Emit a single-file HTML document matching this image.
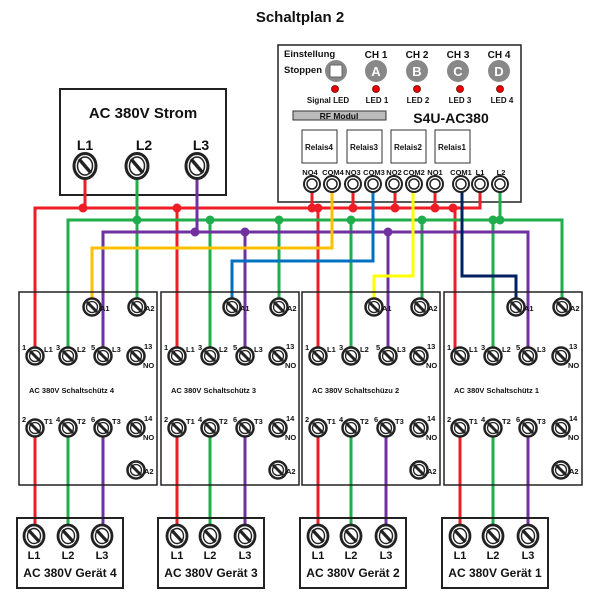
<!DOCTYPE html>
<html><head><meta charset="utf-8"><style>
html,body{margin:0;padding:0;background:#fff}
svg{display:block}
text{font-family:"Liberation Sans",Arial,sans-serif;font-weight:bold;fill:#111}
</style></head><body>
<svg width="600" height="600" viewBox="0 0 600 600" xmlns="http://www.w3.org/2000/svg">
<defs>
<g id="t"><circle r="8.5" fill="#fff" stroke="#222" stroke-width="2.5"/><circle r="5.5" fill="none" stroke="#222" stroke-width="1.3"/><line x1="-5" y1="-5" x2="5" y2="5" stroke="#222" stroke-width="3"/></g>
<g id="T"><ellipse rx="11" ry="12.5" fill="#fff" stroke="#222" stroke-width="3"/><ellipse rx="7.5" ry="9" fill="none" stroke="#222" stroke-width="1.5"/><line x1="-6" y1="-7" x2="6" y2="7" stroke="#222" stroke-width="3.5"/></g>
<g id="D"><ellipse rx="10" ry="11" fill="#fff" stroke="#222" stroke-width="2.8"/><ellipse rx="6.5" ry="7.5" fill="none" stroke="#222" stroke-width="1.4"/><line x1="-5.5" y1="-6" x2="5.5" y2="6" stroke="#222" stroke-width="3.2"/></g>
<g id="m"><circle r="8" fill="#fff" stroke="#222" stroke-width="2"/><circle r="5" fill="none" stroke="#222" stroke-width="1.5"/></g>
</defs>

<text x="300" y="22" font-size="15" text-anchor="middle">Schaltplan 2</text>

<rect x="60" y="89" width="166" height="106" fill="#fff" stroke="#222" stroke-width="2"/>
<text x="143" y="118" font-size="15" text-anchor="middle">AC 380V Strom</text>
<text x="85" y="150" font-size="14" text-anchor="middle">L1</text>
<text x="144" y="150" font-size="14" text-anchor="middle">L2</text>
<text x="201" y="150" font-size="14" text-anchor="middle">L3</text>

<rect x="278" y="45" width="243" height="157" fill="#fff" stroke="#222" stroke-width="1.5"/>
<text x="284" y="57" font-size="9.5">Einstellung</text>
<text x="284" y="73" font-size="9.5">Stoppen</text>
<g font-size="10" text-anchor="middle">
<text x="376" y="58">CH 1</text><text x="417" y="58">CH 2</text><text x="458" y="58">CH 3</text><text x="499" y="58">CH 4</text>
</g>
<circle cx="336" cy="71" r="11" fill="#888"/><rect x="330" y="65" width="12" height="12" fill="#fff" stroke="#666"/>
<circle cx="376" cy="71" r="11" fill="#888"/><text x="376" y="76" font-size="13" text-anchor="middle" style="fill:#fff">A</text>
<circle cx="417" cy="71" r="11" fill="#888"/><text x="417" y="76" font-size="13" text-anchor="middle" style="fill:#fff">B</text>
<circle cx="458" cy="71" r="11" fill="#888"/><text x="458" y="76" font-size="13" text-anchor="middle" style="fill:#fff">C</text>
<circle cx="499" cy="71" r="11" fill="#888"/><text x="499" y="76" font-size="13" text-anchor="middle" style="fill:#fff">D</text>
<g fill="#e00" stroke="#600" stroke-width="0.8">
<circle cx="335" cy="89" r="3.5"/><circle cx="376" cy="89" r="3.5"/><circle cx="417" cy="89" r="3.5"/><circle cx="460" cy="89" r="3.5"/><circle cx="500" cy="89" r="3.5"/>
</g>
<g font-size="8" text-anchor="middle">
<text x="328" y="103">Signal LED</text><text x="377" y="103">LED 1</text><text x="418" y="103">LED 2</text><text x="460" y="103">LED 3</text><text x="502" y="103">LED 4</text>
</g>
<rect x="293" y="111" width="93" height="9" fill="#bbb" stroke="#333" stroke-width="1"/>
<text x="339" y="119" font-size="8.5" text-anchor="middle">RF Modul</text>
<text x="451" y="123" font-size="14" text-anchor="middle">S4U-AC380</text>
<g fill="#fff" stroke="#333" stroke-width="1">
<rect x="302" y="130" width="35" height="33"/><rect x="347" y="130" width="35" height="33"/><rect x="391" y="130" width="35" height="33"/><rect x="435" y="130" width="35" height="33"/>
</g>
<g font-size="8" text-anchor="middle">
<text x="319" y="150">Relais4</text><text x="364" y="150">Relais3</text><text x="408" y="150">Relais2</text><text x="452" y="150">Relais1</text>
</g>
<g font-size="7.5" text-anchor="middle">
<text x="310" y="175">NO4</text><text x="333" y="175">COM4</text><text x="353" y="175">NO3</text><text x="374" y="175">COM3</text><text x="394" y="175">NO2</text><text x="414" y="175">COM2</text><text x="435" y="175">NO1</text><text x="461" y="175">COM1</text><text x="480" y="175">L1</text><text x="501" y="175">L2</text>
</g>

<g fill="none" stroke-width="3" stroke-linejoin="miter">
<g stroke="#ee1c25">
<path d="M35,356 V208 H480 V184"/><path d="M85,178 V208"/>
<path d="M177,208 V356"/><path d="M318,208 V356"/><path d="M455,208 V356"/>
<path d="M312,184 V208"/><path d="M353,184 V208"/><path d="M395,184 V208"/><path d="M435,184 V208"/>
<path d="M35,428 V537"/><path d="M177,428 V537"/><path d="M318,428 V537"/><path d="M460,428 V537"/>
</g>
<g stroke="#1fae4b">
<path d="M68,356 V220 H562 V307"/><path d="M137,178 V307"/>
<path d="M210,220 V356"/><path d="M279,220 V307"/><path d="M351,220 V356"/><path d="M422,220 V307"/><path d="M493,220 V356"/><path d="M500,184 V220"/>
<path d="M68,428 V537"/><path d="M210,428 V537"/><path d="M351,428 V537"/><path d="M493,428 V537"/>
</g>
<g stroke="#7030a0">
<path d="M103,356 V232 H528 V356"/><path d="M197,178 V232"/>
<path d="M245,232 V356"/><path d="M388,232 V356"/>
<path d="M103,428 V537"/><path d="M245,428 V537"/><path d="M386,428 V537"/><path d="M528,428 V537"/>
</g>
<path stroke="#ffc000" d="M92,307 V248 H332 V184"/>
<path stroke="#0070c0" d="M232,307 V261 H373 V184"/>
<path stroke="#ffff00" d="M413,184 V276 H374 V307"/>
<path stroke="#002060" d="M462,184 V276 H516 V307"/>
</g>
<g fill="#ee1c25">
<circle cx="83" cy="208" r="4.5"/><circle cx="177" cy="208" r="4.5"/><circle cx="312" cy="208" r="4.5"/><circle cx="318" cy="208" r="4.5"/><circle cx="353" cy="208" r="4.5"/><circle cx="395" cy="208" r="4.5"/><circle cx="435" cy="208" r="4.5"/><circle cx="453" cy="208" r="4.5"/>
</g>
<g fill="#1fae4b">
<circle cx="137" cy="220" r="4.5"/><circle cx="210" cy="220" r="4.5"/><circle cx="279" cy="220" r="4.5"/><circle cx="351" cy="220" r="4.5"/><circle cx="422" cy="220" r="4.5"/><circle cx="493" cy="220" r="4.5"/><circle cx="500" cy="220" r="4.5"/>
</g>
<g fill="#7030a0">
<circle cx="195" cy="232" r="4.5"/><circle cx="245" cy="232" r="4.5"/><circle cx="388" cy="232" r="4.5"/>
</g>

<use href="#m" x="312" y="184"/><use href="#m" x="332" y="184"/><use href="#m" x="353" y="184"/><use href="#m" x="373" y="184"/><use href="#m" x="394" y="184"/><use href="#m" x="414" y="184"/><use href="#m" x="435" y="184"/><use href="#m" x="461" y="184"/><use href="#m" x="480" y="184"/><use href="#m" x="500" y="184"/>

<use href="#T" x="85" y="166"/><use href="#T" x="137" y="166"/><use href="#T" x="197" y="166"/>

<g transform="translate(19,0)">
<rect x="0" y="292" width="138" height="193" fill="none" stroke="#222" stroke-width="1.5"/>
<use href="#t" x="73" y="307"/><use href="#t" x="118" y="307"/>
<use href="#t" x="16" y="356"/><use href="#t" x="49" y="356"/><use href="#t" x="84" y="356"/><use href="#t" x="117" y="356"/>
<use href="#t" x="16" y="428"/><use href="#t" x="49" y="428"/><use href="#t" x="84" y="428"/><use href="#t" x="117" y="428"/>
<use href="#t" x="117" y="470"/>
<g font-size="7.5">
<text x="81" y="311">A1</text><text x="126" y="311">A2</text>
<text x="3" y="350">1</text><text x="25" y="352">L1</text><text x="37" y="350">3</text><text x="58" y="352">L2</text><text x="72" y="350">5</text><text x="93" y="352">L3</text><text x="125" y="349">13</text><text x="124" y="368">NO</text>
<text x="3" y="422">2</text><text x="25" y="424">T1</text><text x="37" y="422">4</text><text x="58" y="424">T2</text><text x="72" y="422">6</text><text x="93" y="424">T3</text><text x="125" y="421">14</text><text x="124" y="440">NO</text>
<text x="125" y="474">A2</text>
<text x="10" y="393">AC 380V Schaltschütz 4</text>
</g>
</g>
<g transform="translate(161,0)">
<rect x="0" y="292" width="138" height="193" fill="none" stroke="#222" stroke-width="1.5"/>
<use href="#t" x="71" y="307"/><use href="#t" x="118" y="307"/>
<use href="#t" x="16" y="356"/><use href="#t" x="49" y="356"/><use href="#t" x="84" y="356"/><use href="#t" x="117" y="356"/>
<use href="#t" x="16" y="428"/><use href="#t" x="49" y="428"/><use href="#t" x="84" y="428"/><use href="#t" x="117" y="428"/>
<use href="#t" x="117" y="470"/>
<g font-size="7.5">
<text x="79" y="311">A1</text><text x="126" y="311">A2</text>
<text x="3" y="350">1</text><text x="25" y="352">L1</text><text x="37" y="350">3</text><text x="58" y="352">L2</text><text x="72" y="350">5</text><text x="93" y="352">L3</text><text x="125" y="349">13</text><text x="124" y="368">NO</text>
<text x="3" y="422">2</text><text x="25" y="424">T1</text><text x="37" y="422">4</text><text x="58" y="424">T2</text><text x="72" y="422">6</text><text x="93" y="424">T3</text><text x="125" y="421">14</text><text x="124" y="440">NO</text>
<text x="125" y="474">A2</text>
<text x="10" y="393">AC 380V Schaltschütz 3</text>
</g>
</g>
<g transform="translate(302,0)">
<rect x="0" y="292" width="138" height="193" fill="none" stroke="#222" stroke-width="1.5"/>
<use href="#t" x="72" y="307"/><use href="#t" x="118" y="307"/>
<use href="#t" x="16" y="356"/><use href="#t" x="49" y="356"/><use href="#t" x="86" y="356"/><use href="#t" x="117" y="356"/>
<use href="#t" x="16" y="428"/><use href="#t" x="49" y="428"/><use href="#t" x="84" y="428"/><use href="#t" x="117" y="428"/>
<use href="#t" x="117" y="470"/>
<g font-size="7.5">
<text x="80" y="311">A1</text><text x="126" y="311">A2</text>
<text x="3" y="350">1</text><text x="25" y="352">L1</text><text x="37" y="350">3</text><text x="58" y="352">L2</text><text x="74" y="350">5</text><text x="95" y="352">L3</text><text x="125" y="349">13</text><text x="124" y="368">NO</text>
<text x="3" y="422">2</text><text x="25" y="424">T1</text><text x="37" y="422">4</text><text x="58" y="424">T2</text><text x="72" y="422">6</text><text x="93" y="424">T3</text><text x="125" y="421">14</text><text x="124" y="440">NO</text>
<text x="125" y="474">A2</text>
<text x="10" y="393">AC 380V Schaltschüzu 2</text>
</g>
</g>
<g transform="translate(444,0)">
<rect x="0" y="292" width="138" height="193" fill="none" stroke="#222" stroke-width="1.5"/>
<use href="#t" x="72" y="307"/><use href="#t" x="118" y="307"/>
<use href="#t" x="16" y="356"/><use href="#t" x="49" y="356"/><use href="#t" x="84" y="356"/><use href="#t" x="117" y="356"/>
<use href="#t" x="16" y="428"/><use href="#t" x="49" y="428"/><use href="#t" x="84" y="428"/><use href="#t" x="117" y="428"/>
<use href="#t" x="117" y="470"/>
<g font-size="7.5">
<text x="80" y="311">A1</text><text x="126" y="311">A2</text>
<text x="3" y="350">1</text><text x="25" y="352">L1</text><text x="37" y="350">3</text><text x="58" y="352">L2</text><text x="72" y="350">5</text><text x="93" y="352">L3</text><text x="125" y="349">13</text><text x="124" y="368">NO</text>
<text x="3" y="422">2</text><text x="25" y="424">T1</text><text x="37" y="422">4</text><text x="58" y="424">T2</text><text x="72" y="422">6</text><text x="93" y="424">T3</text><text x="125" y="421">14</text><text x="124" y="440">NO</text>
<text x="125" y="474">A2</text>
<text x="10" y="393">AC 380V Schaltschütz 1</text>
</g>
</g>

<g transform="translate(17,0)">
<rect x="0" y="518" width="106" height="70" fill="none" stroke="#222" stroke-width="2"/>
<use href="#D" x="17" y="536"/><use href="#D" x="51" y="536"/><use href="#D" x="85" y="536"/>
<g font-size="11" text-anchor="middle"><text x="17" y="559">L1</text><text x="51" y="559">L2</text><text x="85" y="559">L3</text></g>
<text x="53" y="577" font-size="12" text-anchor="middle">AC 380V Gerät 4</text>
</g>
<g transform="translate(158,0)">
<rect x="0" y="518" width="106" height="70" fill="none" stroke="#222" stroke-width="2"/>
<use href="#D" x="19" y="536"/><use href="#D" x="52" y="536"/><use href="#D" x="87" y="536"/>
<g font-size="11" text-anchor="middle"><text x="19" y="559">L1</text><text x="52" y="559">L2</text><text x="87" y="559">L3</text></g>
<text x="53" y="577" font-size="12" text-anchor="middle">AC 380V Gerät 3</text>
</g>
<g transform="translate(300,0)">
<rect x="0" y="518" width="106" height="70" fill="none" stroke="#222" stroke-width="2"/>
<use href="#D" x="18" y="536"/><use href="#D" x="51" y="536"/><use href="#D" x="86" y="536"/>
<g font-size="11" text-anchor="middle"><text x="18" y="559">L1</text><text x="51" y="559">L2</text><text x="86" y="559">L3</text></g>
<text x="53" y="577" font-size="12" text-anchor="middle">AC 380V Gerät 2</text>
</g>
<g transform="translate(442,0)">
<rect x="0" y="518" width="106" height="70" fill="none" stroke="#222" stroke-width="2"/>
<use href="#D" x="18" y="536"/><use href="#D" x="51" y="536"/><use href="#D" x="86" y="536"/>
<g font-size="11" text-anchor="middle"><text x="18" y="559">L1</text><text x="51" y="559">L2</text><text x="86" y="559">L3</text></g>
<text x="53" y="577" font-size="12" text-anchor="middle">AC 380V Gerät 1</text>
</g>
</svg>
</body></html>
